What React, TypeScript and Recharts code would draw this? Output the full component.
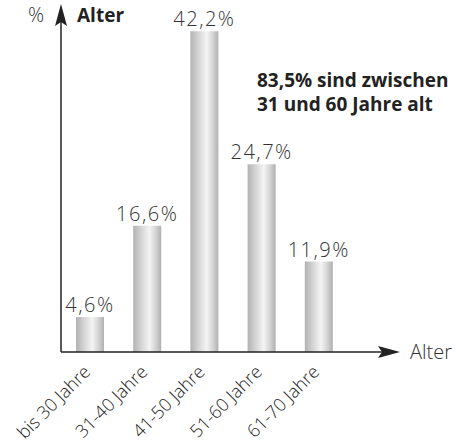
import { Bar, BarChart, LabelList, XAxis, YAxis } from 'recharts'

const ageGroups = ['bis 30 Jahre', '31-40 Jahre', '41-50 Jahre', '51-60 Jahre', '61-70 Jahre']
const shares = [4.6, 16.6, 42.2, 24.7, 11.9]
const noteLines = ['83,5% sind zwischen', '31 und 60 Jahre alt']

const data = ageGroups.map((group, i) => ({ group, share: shares[i] }))

const font = '"Open Sans", "Noto Sans", sans-serif'
const ink = '#222'

const fmt = (v: number) => `${String(v).replace('.', ',')}%`

function AgeTick(props: any) {
  const { x, y, payload } = props
  return (
    <text
      transform={`translate(${x + 2},${y + 13}) rotate(-45)`}
      textAnchor="end"
      fontSize={18}
      fontWeight={300}
      fontFamily={font}
      fill={ink}
    >
      {payload.value}
    </text>
  )
}

export default function App() {
  return (
    <div style={{ position: 'relative', width: 456, height: 443, background: '#fff' }}>
      <style>{'body{margin:0}'}</style>
      <BarChart
        width={456}
        height={443}
        data={data}
        margin={{ top: 10, right: 109, bottom: 0, left: 61 }}
      >
        <defs>
          <linearGradient id="tube" x1="0" y1="0" x2="1" y2="0">
            <stop offset="0%" stopColor="#b2b2b2" />
            <stop offset="30%" stopColor="#d6d6d6" />
            <stop offset="58%" stopColor="#f4f4f4" />
            <stop offset="80%" stopColor="#d4d4d4" />
            <stop offset="100%" stopColor="#b0b0b0" />
          </linearGradient>
        </defs>
        <XAxis
          dataKey="group"
          axisLine={false}
          tickLine={false}
          interval={0}
          tick={<AgeTick />}
          height={91}
        />
        <YAxis hide domain={[0, 45]} />
        <Bar dataKey="share" fill="url(#tube)" barSize={28} isAnimationActive={false}>
          <LabelList
            dataKey="share"
            position="top"
            offset={5}
            formatter={(v: any) => fmt(Number(v))}
            style={{ fontSize: 20, fontWeight: 300, fontFamily: font, fill: '#333', letterSpacing: 1.5 }}
          />
        </Bar>
      </BarChart>
      <svg
        width={456}
        height={443}
        style={{ position: 'absolute', left: 0, top: 0, pointerEvents: 'none' }}
      >
        <line x1={61} y1={352} x2={61} y2={20} stroke={ink} strokeWidth={1.5} />
        <path d="M61 4 L67 26 L61 22 L55 26 Z" fill={ink} />
        <line x1={61} y1={352} x2={385} y2={352} stroke={ink} strokeWidth={1.5} />
        <path d="M400 352 L378 346 L382 352 L378 358 Z" fill={ink} />
        <text x={28} y={22} fontSize={20} fontWeight={300} fontFamily={font} fill="#333">%</text>
        <text x={77} y={22} fontSize={19} fontWeight="bold" fontFamily={font} fill={ink}>Alter</text>
        <text x={410} y={359} fontSize={20} fontWeight={300} fontFamily={font} fill="#333">Alter</text>
        {noteLines.map((line, i) => (
          <text
            key={line}
            x={257}
            y={87 + i * 23.5}
            fontSize={19}
            fontWeight="bold"
            fontFamily={font}
            fill={ink}
          >
            {line}
          </text>
        ))}
      </svg>
    </div>
  )
}
